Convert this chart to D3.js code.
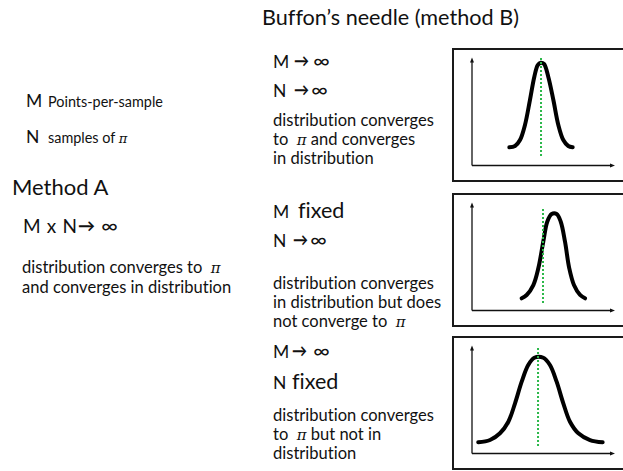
<!DOCTYPE html>
<html>
<head>
<meta charset="utf-8">
<script src="https://cdn.jsdelivr.net/npm/d3@7"></script>
<style>
  html, body { margin: 0; padding: 0; background: #fff; }
  svg { display: block; }
  text { font-family: Lato, "Open Sans", sans-serif; fill: #111; font-variant-ligatures: none; font-feature-settings: "liga" 0, "clig" 0; }
</style>
</head>
<body>
<svg id="chart" width="623" height="471"></svg>
<script>
// ---------------- data ----------------
const titleText = "Buffon\u2019s needle (method B)";

const legendSymbols = ["M", "N"];
const legendDescriptions = ["Points-per-sample", "samples of \u03c0"];

const methodATitle = "Method A";
const methodACondition = ["M x N", "\u2192", "\u221e"];
const methodAConclusion = ["distribution converges to \u00a0\u03c0", "and converges in distribution"];

const caseM = [["M", "\u2192", "\u221e"], ["M", "fixed"], ["M", "\u2192", "\u221e"]];
const caseN = [["N", "\u2192", "\u221e"], ["N", "\u2192", "\u221e"], ["N", "fixed"]];
const caseConclusions = [
  ["distribution converges", "to \u00a0\u03c0 and converges", "in distribution"],
  ["distribution converges", "in distribution but does", "not converge to \u00a0\u03c0"],
  ["distribution converges", "to \u00a0\u03c0 but not in", "distribution"]
];

// density curves (x: 0..100 along the axis, y: 0..100 up the axis)
const curveBothInfinite = [[26.3,17.0],[30.3,18.2],[33.8,23.8],[37.3,37.9],[40.8,61.2],[43.9,83.0],[46.3,93.9],[48.4,96.1],[50.7,94.9],[53.7,83.0],[57.3,61.2],[60.8,37.9],[64.3,23.8],[67.8,18.2],[70.9,17.0]];
const curveMFixed = [[35.0,11.4],[38.5,14.5],[43.2,23.8],[46.7,39.4],[50.2,64.3],[53.0,83.0],[56.1,90.2],[59.6,90.2],[62.5,83.0],[65.5,64.3],[68.5,39.4],[71.8,23.8],[76.1,14.5],[79.6,11.4]];
const curveNFixed = [[4.4,10.5],[12.7,12.6],[19.7,18.9],[25.6,29.7],[30.3,46.9],[35.0,67.1],[39.6,82.7],[43.9,89.5],[50.2,89.5],[54.9,82.7],[59.6,67.1],[64.3,46.9],[69.0,29.7],[74.9,18.9],[83.1,12.6],[92.0,10.5]];
const curves = [curveBothInfinite, curveMFixed, curveNFixed];

// true value of pi marker (x position and vertical extent, same units)
const piX = [48.6, 50.0, 46.5];
const piYRange = [[8.9, 100.5], [7.0, 96.7], [7.0, 98.6]];

// ---------------- layout ----------------
const svg = d3.select("#chart");

function fitSize(str, target) {
  const t = svg.append("text").attr("font-size", 100).text(str);
  const w = t.node().getComputedTextLength();
  t.remove();
  return 100 * target / w;
}
const bodySize = fitSize("distribution converges", 161);
const titleSize = fitSize(titleText, 257);
const smallSize = fitSize("Points-per-sample", 115);
const letterSize = 17.5;

// title
svg.append("text").attr("x", 262).attr("y", 25).attr("font-size", titleSize).text(titleText);

function piText(sel, str, size) {
  const parts = str.split("\u03c0");
  sel.append("tspan").text(parts[0]);
  if (parts.length > 1) {
    sel.append("tspan").attr("font-style", "italic").attr("font-family", "DejaVu Serif")
      .attr("font-size", size * 0.9).text("\u03c0");
    if (parts[1]) sel.append("tspan").text(parts[1]);
  }
}

function arrowText(x, y, len) {
  svg.append("text").attr("x", x).attr("y", y - 1).attr("font-size", 17).attr("font-weight", "bold")
    .attr("font-family", "DejaVu Sans").attr("textLength", len).attr("lengthAdjust", "spacingAndGlyphs").text("\u2192");
}
function infText(x, y) {
  svg.append("text").attr("x", x).attr("y", y).attr("font-size", 20)
    .attr("font-family", "DejaVu Sans").attr("textLength", 17).attr("lengthAdjust", "spacingAndGlyphs").text("\u221e");
}

// legend (left)
const legendY = [107, 143];
legendSymbols.forEach((s, i) => {
  svg.append("text").attr("x", 26).attr("y", legendY[i]).attr("font-size", letterSize).text(s);
  const t = svg.append("text").attr("x", 48).attr("y", legendY[i]).attr("font-size", smallSize);
  piText(t, legendDescriptions[i], smallSize);
});

// Method A
svg.append("text").attr("x", 12).attr("y", 195).attr("font-size", 22).text(methodATitle);
svg.append("text").attr("x", 23).attr("y", 233).attr("font-size", 19)
  .attr("textLength", 54).attr("lengthAdjust", "spacing").text(methodACondition[0]);
arrowText(78, 233, 17);
infText(101, 233);

methodAConclusion.forEach((line, i) => {
  const t = svg.append("text").attr("x", 22).attr("y", 273 + i * 20).attr("font-size", bodySize);
  piText(t, line, bodySize);
});

// Method B cases
const caseLayout = [
  { mY: 68, nY: 97, bodyY: 126, mArrowX: 294, mInfX: 313, nArrowX: 294, nInfX: 311, mFixedX: 298, nFixedX: 292, box: 49 },
  { mY: 218, nY: 247, bodyY: 289, mArrowX: 294, mInfX: 313, nArrowX: 293, nInfX: 310, mFixedX: 298, nFixedX: 292, box: 194 },
  { mY: 358, nY: 389, bodyY: 421, mArrowX: 292, mInfX: 313, nArrowX: 292, nInfX: 310, mFixedX: 298, nFixedX: 292, box: 337 }
];

function drawCondition(parts, y, arrowX, infX, fixedX) {
  svg.append("text").attr("x", 273).attr("y", y).attr("font-size", letterSize).text(parts[0]);
  if (parts[1] === "fixed") {
    svg.append("text").attr("x", fixedX).attr("y", y).attr("font-size", 21.5).text(parts[1]);
  } else {
    arrowText(arrowX, y, 15);
    infText(infX, y);
  }
}

const lineGen = d3.line().curve(d3.curveCatmullRom.alpha(0.5));

caseLayout.forEach((L, i) => {
  drawCondition(caseM[i], L.mY, L.mArrowX, L.mInfX, L.mFixedX);
  drawCondition(caseN[i], L.nY, L.nArrowX, L.nInfX, L.nFixedX);
  caseConclusions[i].forEach((line, j) => {
    const t = svg.append("text").attr("x", 273).attr("y", L.bodyY + j * 19).attr("font-size", bodySize);
    piText(t, line, bodySize);
  });

  // panel box
  const top = L.box;
  svg.append("rect").attr("x", 453).attr("y", top).attr("width", 200).attr("height", 132)
    .attr("fill", "none").attr("stroke", "#1a1a1a").attr("stroke-width", 2);

  const x = d3.scaleLinear().domain([0, 100]).range([472, 614]);
  const y = d3.scaleLinear().domain([0, 100]).range([top + 116.5, top + 9.5]);

  // axes
  svg.append("line").attr("x1", x(0)).attr("y1", y(0)).attr("x2", x(0)).attr("y2", y(100) + 2)
    .attr("stroke", "#111").attr("stroke-width", 1.3);
  svg.append("line").attr("x1", x(0)).attr("y1", y(0)).attr("x2", x(100) - 2).attr("y2", y(0))
    .attr("stroke", "#111").attr("stroke-width", 1.3);
  svg.append("path").attr("d", `M${x(0)},${y(100) - 1} l-2,5 l4,0 z`).attr("fill", "#111");
  svg.append("path").attr("d", `M${x(100) + 1},${y(0)} l-5,-2 l0,4 z`).attr("fill", "#111");

  // curve
  svg.append("path").attr("d", lineGen(curves[i].map(d => [x(d[0]), y(d[1])])))
    .attr("fill", "none").attr("stroke", "#000").attr("stroke-width", 4)
    .attr("stroke-linecap", "round").attr("stroke-linejoin", "round");

  // pi marker
  svg.append("line").attr("x1", x(piX[i])).attr("x2", x(piX[i]))
    .attr("y1", y(piYRange[i][0])).attr("y2", y(piYRange[i][1]))
    .attr("stroke", "#2cb84a").attr("stroke-width", 2).attr("stroke-dasharray", "2,2");
});
</script>
</body>
</html>
